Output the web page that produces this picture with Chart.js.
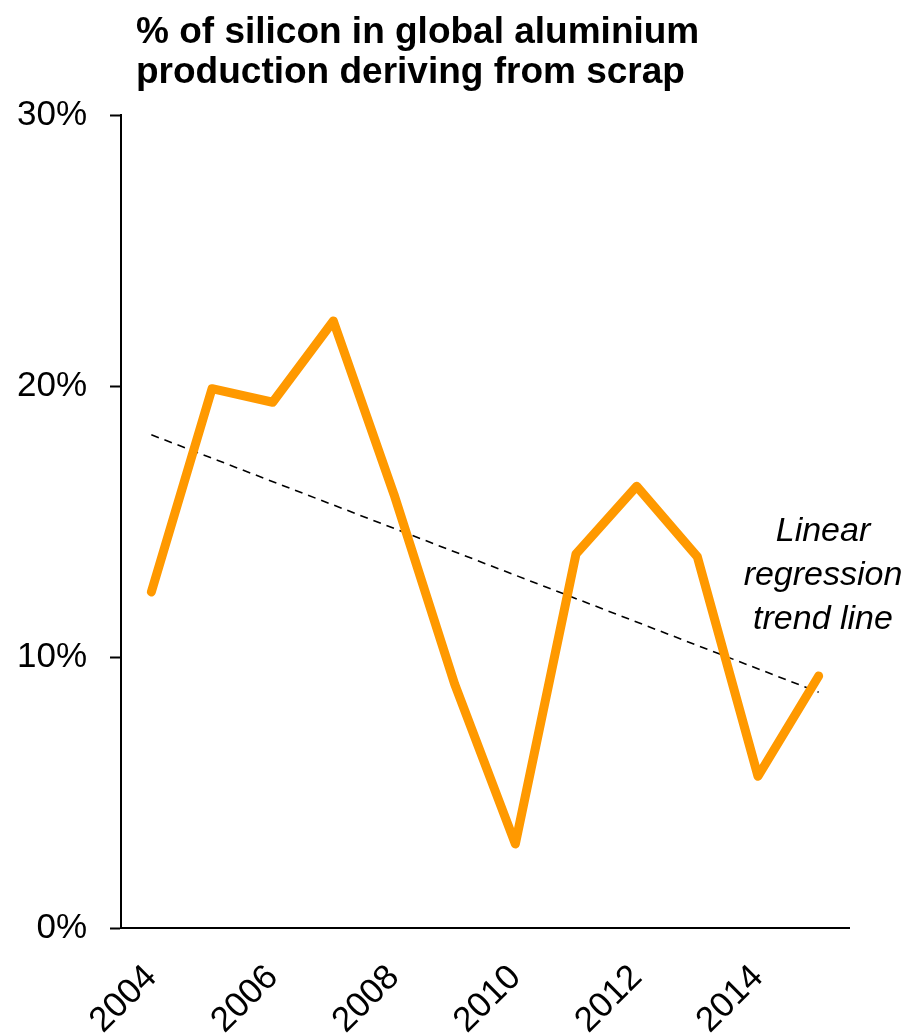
<!DOCTYPE html>
<html>
<head>
<meta charset="utf-8">
<script src="https://cdn.jsdelivr.net/npm/chart.js@4/dist/chart.umd.min.js"></script>
<style>
  body { margin: 0; background: #fff; }
  #wrap { width: 912px; height: 1033px; position: relative; }
</style>
</head>
<body>
<div id="wrap"><canvas id="chart"></canvas></div>
<script>
// Years and share of silicon from scrap (%)
const years = ['2004', '2005', '2006', '2007', '2008', '2009', '2010', '2011', '2012', '2013', '2014', '2015'];
const scrapShare = [12.4, 19.9, 19.4, 22.4, 16.0, 9.0, 3.1, 13.8, 16.3, 13.7, 5.6, 9.3];
// Trend line end points
const trendYears = ['2004', '2015'];
const trendValues = [18.2, 8.7];
const titleLines = ['% of silicon in global aluminium', 'production deriving from scrap'];
const noteLines = ['Linear', 'regression', 'trend line'];

const FONT = "'Liberation Sans', Arial, sans-serif";

// Title and trend line note
const textPlugin = {
    id: 'texts',
    afterDraw(chart) {
        const ctx = chart.ctx;
        const area = chart.chartArea;
        ctx.save();
        ctx.fillStyle = '#000';
        ctx.textBaseline = 'alphabetic';
        ctx.textAlign = 'left';
        ctx.font = 'bold 37px ' + FONT;
        titleLines.forEach((t, i) => ctx.fillText(t, 136, 43 + i * 40));
        ctx.textAlign = 'center';
        ctx.font = 'italic 34px ' + FONT;
        noteLines.forEach((t, i) => ctx.fillText(t, area.right - 26, 541 + i * 44));
        ctx.restore();
    }
};

new Chart(document.getElementById('chart'), {
    type: 'line',
    data: {
        labels: years,
        datasets: [{
            data: scrapShare,
            borderColor: '#FF9900',
            borderWidth: 9,
            borderCapStyle: 'round',
            borderJoinStyle: 'round',
            pointRadius: 0,
            tension: 0
        }, {
            data: trendYears.map((y, i) => ({ x: y, y: trendValues[i] })),
            borderColor: '#000',
            borderWidth: 1.6,
            borderDash: [8, 6],
            pointRadius: 0,
            tension: 0
        }]
    },
    options: {
        responsive: true,
        maintainAspectRatio: false,
        animation: false,
        layout: { padding: { top: 115, right: 63, bottom: 0, left: 0 } },
        plugins: {
            legend: { display: false },
            tooltip: { enabled: false }
        },
        scales: {
            x: {
                offset: true,
                grid: { display: false },
                border: { display: true, color: '#000', width: 2 },
                afterFit(scale) { scale.height = 105; },
                ticks: {
                    autoSkip: false,
                    maxRotation: 45,
                    minRotation: 45,
                    padding: 21,
                    color: '#000',
                    font: { family: FONT, size: 35 },
                    callback(val, i) { return i % 2 === 0 ? this.getLabelForValue(val) : ''; }
                }
            },
            y: {
                min: 0,
                max: 30,
                grid: {
                    drawOnChartArea: false,
                    drawTicks: true,
                    tickLength: 11,
                    tickColor: '#000',
                    tickWidth: 2
                },
                border: { display: true, color: '#000', width: 2 },
                afterFit(scale) { scale.width = 121; },
                ticks: {
                    stepSize: 10,
                    padding: 23,
                    color: '#000',
                    font: { family: FONT, size: 35 },
                    callback: v => v + '%'
                }
            }
        }
    },
    plugins: [textPlugin]
});
</script>
</body>
</html>
